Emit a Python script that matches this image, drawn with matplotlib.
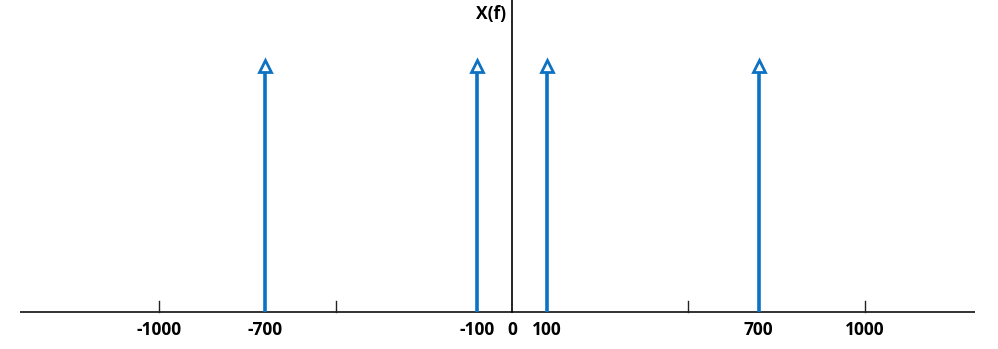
import matplotlib
matplotlib.use("Agg")
import matplotlib.pyplot as plt

# data
freqs = [-700, -100, 100, 700]
amps = [1.0, 1.0, 1.0, 1.0]
tick_pos = [-1000, -500, 500, 1000]
label_pos = [-1000, -700, -100, 0, 100, 700, 1000]
label_txt = ["-1000", "-700", "-100", "0", "100", "700", "1000"]
y_label = "X(f)"

blue = "#0E72C2"
W, H = 998, 349
fig = plt.figure(figsize=(W / 100, H / 100), dpi=100)
ax = fig.add_axes([0, 0, 1, 1])
ax.set_axis_off()

# pixel mapping: x0 at px 512, 352.5 px per 1000; y0 at px 312, sy px per unit
sx = 0.3525
sy = 252.0
ax.set_xlim((0 - 512) / sx, (W - 512) / sx)
ax.set_ylim((312 - H) / sy, 312 / sy)

xmin, xmax = (20 - 512) / sx, (975 - 512) / sx
ax.plot([xmin, xmax], [0, 0], color="#222222", lw=1.3, solid_capstyle="butt")
ax.plot([0, 0], [0, 312 / sy], color="black", lw=1.2)
for t in tick_pos:
    ax.plot([t, t], [0, 0.045], color="#222222", lw=1.0)

head = 0.05
for f, a in zip(freqs, amps):
    ax.plot([f, f], [0, a - head], color=blue, lw=2.6, solid_capstyle="butt")
    ax.plot([f], [a - head / 2 + 0.003], marker="^", markersize=8.5,
            markerfacecolor="white", markeredgecolor=blue, markeredgewidth=2.0)

font = dict(family=["Open Sans", "DejaVu Sans"], fontweight="bold", fontsize=12.5)
for p, s in zip(label_pos, label_txt):
    ax.text(p, -18 / sy, s, ha="center", va="center", color="black", **font)

ax.text(-6 / sx, (312 - 14) / sy, y_label, ha="right", va="center", color="black", **font)

fig.savefig("out.png", dpi=100)
